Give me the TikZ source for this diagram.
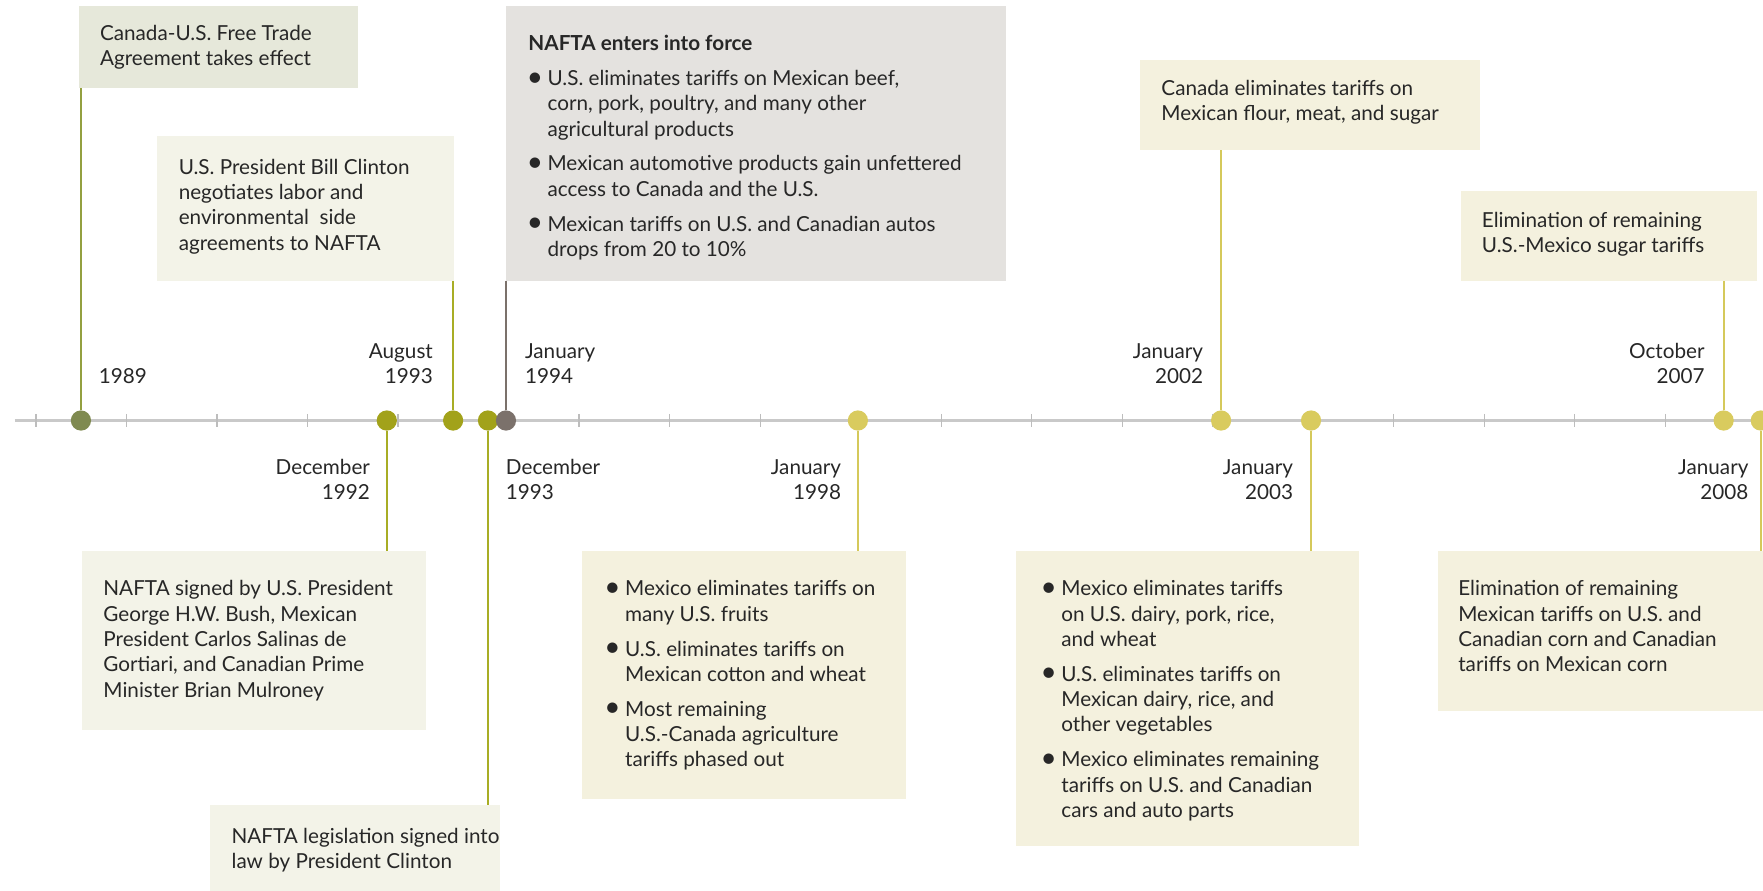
\documentclass[tikz,border=0pt]{standalone}
\usepackage{fontspec}
\setmainfont{Lato}
\definecolor{txtc}{HTML}{272727}
\definecolor{boxA}{HTML}{E6E8DA}
\definecolor{boxB}{HTML}{F3F3E8}
\definecolor{boxG}{HTML}{E4E2DF}
\definecolor{boxY}{HTML}{F4F1DE}
\definecolor{dotA}{HTML}{7F8A50}
\definecolor{dotO}{HTML}{A2A21A}
\definecolor{dotG}{HTML}{7B716B}
\definecolor{dotY}{HTML}{D9CB5E}
\definecolor{lnA}{HTML}{93A040}
\definecolor{lnO}{HTML}{A8AD25}
\definecolor{lnY}{HTML}{D5C95B}
\definecolor{axisc}{HTML}{C9C9C9}
\definecolor{tickc}{HTML}{BDBDBD}
\newcommand{\fs}{\fontsize{18.4}{22.5}\selectfont}
\newcommand{\itm}[1]{\par\hangindent=17pt\hangafter=1\noindent\makebox[17pt][l]{\hspace{-1.5pt}\raisebox{-0.5pt}{\scalebox{1.35}{\textbullet}}}#1}
\begin{document}
\begin{tikzpicture}[x=1pt,y=-1pt,
  box/.style={anchor=north west, inner sep=0, outer sep=0, draw=none},
  txt/.style={anchor=base west, inner sep=0, outer sep=0, text=txtc, font=\fs},
  datel/.style={anchor=base west, inner sep=0, outer sep=0, text=txtc, font=\fs},
  dater/.style={anchor=base east, inner sep=0, outer sep=0, text=txtc, font=\fs},
  dot/.style={circle, inner sep=0, outer sep=0, minimum size=18pt, fill=#1},
  ln/.style={line width=2pt, draw=#1}]
\useasboundingbox (0,0) rectangle (1568,792);
% axis
\coordinate (axL) at (13,374);
\coordinate (axR) at (1568,374);
\draw[axisc, line width=3pt] (axL) -- (axR);
\foreach \k in {0,...,19}{
  \draw[tickc, line width=1pt] ({32+80.5*\k},368) -- ({32+80.5*\k},380);
}
% boxes
\node[box, fill=boxA, minimum width=248pt, minimum height=73pt] (b1) at (70,5) {};
\node[box, fill=boxB, minimum width=264pt, minimum height=129pt] (b2) at (140,121) {};
\node[box, fill=boxG, minimum width=445pt, minimum height=245pt] (b3) at (450,5) {};
\node[box, fill=boxB, minimum width=306pt, minimum height=159pt] (b4) at (73,490) {};
\node[box, fill=boxY, minimum width=302pt, minimum height=80pt] (b5) at (1014,53) {};
\node[box, fill=boxY, minimum width=264pt, minimum height=80pt] (b6) at (1299,170) {};
\node[box, fill=boxB, minimum width=258pt, minimum height=76pt] (b7) at (187,716) {};
\node[box, fill=boxY, minimum width=288pt, minimum height=221pt] (b8) at (518,490) {};
\node[box, fill=boxY, minimum width=305pt, minimum height=262pt] (b9) at (904,490) {};
\node[box, fill=boxY, minimum width=289pt, minimum height=142pt] (b10) at (1279,490) {};
% texts
\node[txt] (t1) at (89,36) {\parbox[t]{300pt}{Canada-U.S. Free Trade\\Agreement takes effect}};
\node[txt] (t2) at (159,155) {\parbox[t]{300pt}{U.S. President Bill Clinton\\negotiates labor and\\environmental\ \ side\\agreements to NAFTA}};
\node[txt] (t3) at (470,45) {\parbox[t]{440pt}{\setlength{\parskip}{8.5pt}\textbf{NAFTA enters into force}
\itm{U.S. eliminates tariffs on Mexican beef,\\corn, pork, poultry, and many other\\agricultural products}
\itm{Mexican automotive products gain unfettered\\access to Canada and the U.S.}
\itm{Mexican tariffs on U.S. and Canadian autos\\drops from 20 to 10\%}}};
\node[txt] (t4) at (92,530) {\parbox[t]{300pt}{NAFTA signed by U.S. President\\George H.W. Bush, Mexican\\President Carlos Salinas de\\Gortiari, and Canadian Prime\\Minister Brian Mulroney}};
\node[txt] (t5) at (1033,85) {\parbox[t]{300pt}{Canada eliminates tariffs on\\Mexican flour, meat, and sugar}};
\node[txt] (t6) at (1318,202) {\parbox[t]{300pt}{Elimination of remaining\\U.S.-Mexico sugar tariffs}};
\node[txt] (t7) at (206,750) {\parbox[t]{300pt}{NAFTA legislation signed into\\law by President Clinton}};
\node[txt] (t8) at (539,530) {\parbox[t]{300pt}{\setlength{\parskip}{8.5pt}%
\itm{Mexico eliminates tariffs on\\many U.S. fruits}
\itm{U.S. eliminates tariffs on\\Mexican cotton and wheat}
\itm{Most remaining\\U.S.-Canada agriculture\\tariffs phased out}}};
\node[txt] (t9) at (927,530) {\parbox[t]{300pt}{\setlength{\parskip}{8.5pt}%
\itm{Mexico eliminates tariffs\\on U.S. dairy, pork, rice,\\and wheat}
\itm{U.S. eliminates tariffs on\\Mexican dairy, rice, and\\other vegetables}
\itm{Mexico eliminates remaining\\tariffs on U.S. and Canadian\\cars and auto parts}}};
\node[txt] (t10) at (1297,530) {\parbox[t]{300pt}{Elimination of remaining\\Mexican tariffs on U.S. and\\Canadian corn and Canadian\\tariffs on Mexican corn}};
% dates
\node[datel] (y1989) at (88,341) {1989};
\node[dater] (y9308) at (385,319) {\begin{tabular}[t]{@{}r@{}}August\\1993\end{tabular}};
\node[datel] (y9401) at (467,319) {\begin{tabular}[t]{@{}l@{}}January\\1994\end{tabular}};
\node[dater] (y9212) at (329,422) {\begin{tabular}[t]{@{}r@{}}December\\1992\end{tabular}};
\node[datel] (y9312) at (450,422) {\begin{tabular}[t]{@{}l@{}}December\\1993\end{tabular}};
\node[dater] (y9801) at (748,422) {\begin{tabular}[t]{@{}r@{}}January\\1998\end{tabular}};
\node[dater] (y0201) at (1070,319) {\begin{tabular}[t]{@{}r@{}}January\\2002\end{tabular}};
\node[dater] (y0301) at (1150,422) {\begin{tabular}[t]{@{}r@{}}January\\2003\end{tabular}};
\node[dater] (y0710) at (1516,319) {\begin{tabular}[t]{@{}r@{}}October\\2007\end{tabular}};
\node[dater] (y0801) at (1555,422) {\begin{tabular}[t]{@{}r@{}}January\\2008\end{tabular}};
% dots
\node[dot=dotA] (d1989) at (72,374) {};
\node[dot=dotO] (d9212) at (344,374) {};
\node[dot=dotO] (d9308) at (403,374) {};
\node[dot=dotO] (d9312) at (434,374) {};
\node[dot=dotG] (d9401) at (450,374) {};
\node[dot=dotY] (d9801) at (763,374) {};
\node[dot=dotY] (d0201) at (1086,374) {};
\node[dot=dotY] (d0301) at (1166,374) {};
\node[dot=dotY] (d0710) at (1533,374) {};
\node[dot=dotY] (d0801) at (1566,374) {};
% connectors
\draw[ln=lnA] (d1989.north) -- (d1989.north |- b1.south);
\draw[ln=lnO] (d9308.north) -- (d9308.north |- b2.south);
\draw[ln=dotG] (d9401.north) -- (d9401.north |- b3.south);
\draw[ln=lnO] (d9212.south) -- (d9212.south |- b4.north);
\draw[ln=lnO] (d9312.south) -- (d9312.south |- b7.north);
\draw[ln=lnY] (d9801.south) -- (d9801.south |- b8.north);
\draw[ln=lnY] (d0201.north) -- (d0201.north |- b5.south);
\draw[ln=lnY] (d0301.south) -- (d0301.south |- b9.north);
\draw[ln=lnY] (d0710.north) -- (d0710.north |- b6.south);
\draw[ln=lnY] (d0801.south) -- (d0801.south |- b10.north);
\end{tikzpicture}
\end{document}
